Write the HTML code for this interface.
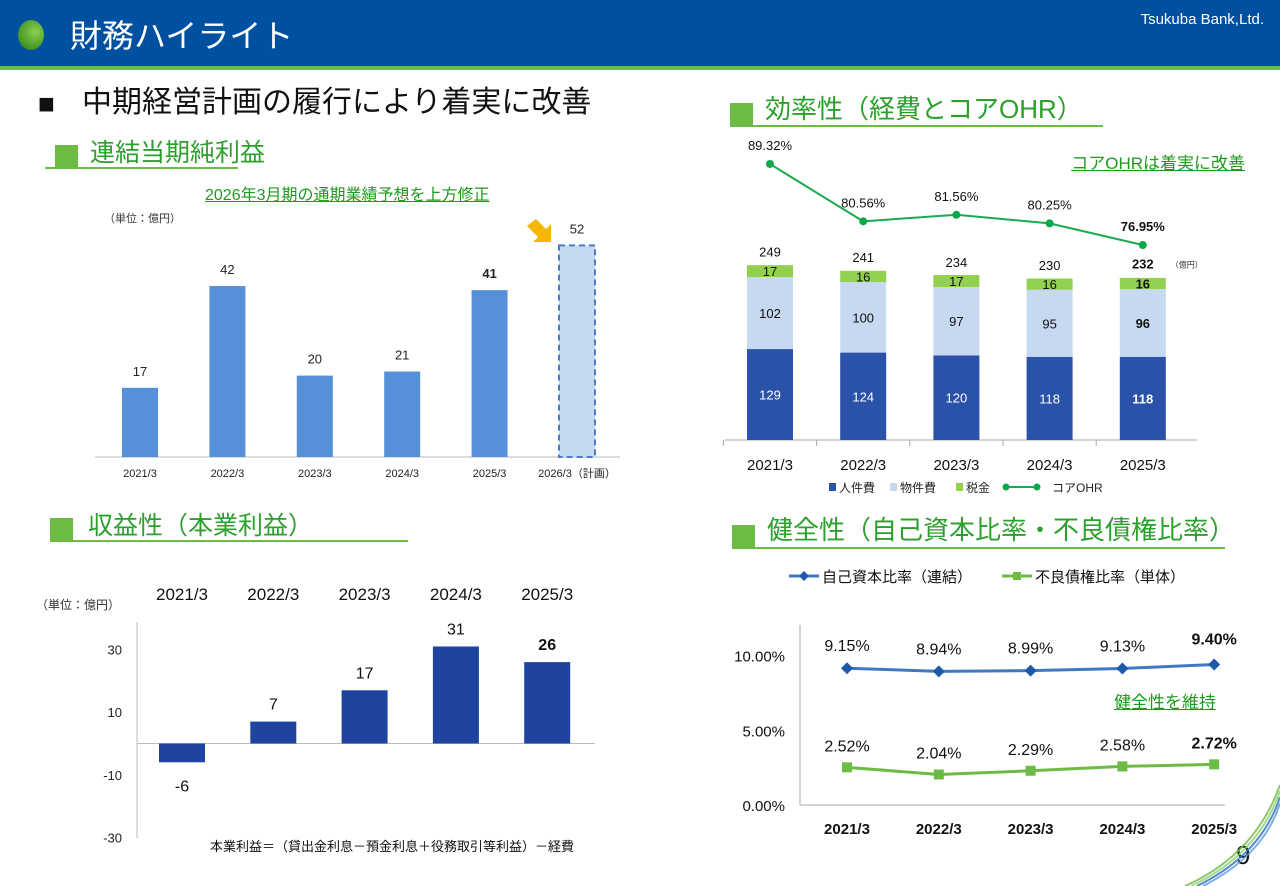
<!DOCTYPE html>
<html><head><meta charset="utf-8">
<style>
body{margin:0;width:1280px;height:886px;overflow:hidden;background:#fff;font-family:"Liberation Sans","Noto Sans CJK JP",sans-serif;position:relative}
.abs{position:absolute;white-space:nowrap}
.sec{position:absolute;color:#2ca02c;font-size:25px;line-height:28px}
.sq{position:absolute;background:#6cbb45}
.ul{position:absolute;height:2px;background:#6cbb45}
.note{position:absolute;color:#1e9a1e;text-decoration:underline;white-space:nowrap}
svg{position:absolute;left:0;top:0}
</style></head><body>
<div class="abs" style="left:0;top:0;width:1280px;height:66px;background:#0050a2"></div>
<div class="abs" style="left:0;top:66px;width:1280px;height:4px;background:#6cbb45"></div>
<div class="abs" style="left:18px;top:20px;width:26px;height:30px;border-radius:50%;background:radial-gradient(circle at 65% 40%,#8ad050,#3a8a20 80%)"></div>
<div class="abs" style="left:70px;top:15px;color:#fff;font-size:32px;line-height:42px">財務ハイライト</div>
<div class="abs" style="right:16px;top:11px;color:#fff;font-size:15px">Tsukuba Bank,Ltd.</div>
<div class="abs" style="left:38px;top:86px;font-size:28px;line-height:36px;color:#111">■</div>
<div class="abs" style="left:82px;top:84px;font-size:30px;line-height:38px;color:#111">中期経営計画の履行により着実に改善</div>

<div class="sq" style="left:55px;top:145px;width:23px;height:23px"></div>
<div class="sec" style="left:90px;top:139px">連結当期純利益</div>
<div class="ul" style="left:45px;top:167px;width:193px"></div>

<div class="sq" style="left:730px;top:103px;width:23px;height:24px"></div>
<div class="sec" style="left:765px;top:95px;font-size:26px">効率性（経費とコアOHR）</div>
<div class="ul" style="left:730px;top:125px;width:373px"></div>

<div class="sq" style="left:50px;top:518px;width:23px;height:24px"></div>
<div class="sec" style="left:88px;top:512px">収益性（本業利益）</div>
<div class="ul" style="left:50px;top:540px;width:358px"></div>

<div class="sq" style="left:732px;top:525px;width:23px;height:24px"></div>
<div class="sec" style="left:767px;top:516px;font-size:26px">健全性（自己資本比率・不良債権比率）</div>
<div class="ul" style="left:732px;top:547px;width:493px"></div>

<div class="note" style="left:205px;top:181px;font-size:16px">2026年3月期の通期業績予想を上方修正</div>
<div class="note" style="right:35px;top:149px;font-size:17px">コアOHRは着実に改善</div>
<div class="note" style="left:1114px;top:688px;font-size:17px">健全性を維持</div>
<div class="abs" style="left:104px;top:210px;font-size:11px;color:#333">（単位：億円）</div>
<div class="abs" style="left:36px;top:596px;font-size:12px;color:#333">（単位：億円）</div>
<div class="abs" style="left:210px;top:836px;font-size:13px;color:#111">本業利益＝（貸出金利息－預金利息＋役務取引等利益）－経費</div>
<div class="abs" style="left:1236px;top:840px;font-size:26px;color:#111">9</div>

<svg id="svg" width="1280" height="886" font-family="Liberation Sans, Noto Sans CJK JP, sans-serif"></svg>
<script>
const niCats=["2021/3","2022/3","2023/3","2024/3","2025/3","2026/3（計画）"];
const niVals=[17,42,20,21,41,52];
const exCats=["2021/3","2022/3","2023/3","2024/3","2025/3"];
const exPersonnel=[129,124,120,118,118];
const exProperty=[102,100,97,95,96];
const exTax=[17,16,17,16,16];
const exTotal=[249,241,234,230,232];
const ohrVals=[89.32,80.56,81.56,80.25,76.95];
const cpCats=["2021/3","2022/3","2023/3","2024/3","2025/3"];
const cpVals=[-6,7,17,31,26];
const cpTicks=[30,10,-10,-30];
const rtCats=["2021/3","2022/3","2023/3","2024/3","2025/3"];
const capVals=[9.15,8.94,8.99,9.13,9.40];
const nplVals=[2.52,2.04,2.29,2.58,2.72];
const rtTicks=[0,5,10];

const svg=document.getElementById('svg');
const NS='http://www.w3.org/2000/svg';
function mk(tag,attrs,name,txt){const e=document.createElementNS(NS,tag);for(const k in attrs)e.setAttribute(k,attrs[k]);


if(txt!==undefined)e.textContent=txt;svg.appendChild(e);return e;}

const c1x=i=>140+i*87.4, c1y=v=>457-v*4.07;
mk('line',{x1:95,x2:620,y1:457,y2:457,stroke:'#bbb'},'x-axis');
niCats.forEach((c,i)=>{
  const last=i===niCats.length-1;
  mk('rect',{x:c1x(i)-18,y:c1y(niVals[i]),width:36,height:457-c1y(niVals[i]),fill:last?'#c5d9f1':'#5590d8',stroke:last?'#4a7cc8':'none','stroke-width':last?2:0,'stroke-dasharray':'6,4'},'net-income-bar');
  mk('text',{x:c1x(i),y:c1y(niVals[i])-12,'text-anchor':'middle','font-size':13,'font-weight':i==4?'bold':'normal',fill:'#222'},'bar-value-label',niVals[i]);
  mk('text',{x:c1x(i),y:477,'text-anchor':'middle','font-size':11,fill:'#222'},'x-tick-label',c);
});
mk('polygon',{points:'527,226 536,219 546,229 551,224 551,242 533,242 538,237',fill:'#f5b800'},'forecast-arrow');

const c2x=i=>770+i*93.2, c2y=v=>440-v*0.705, oy=v=>245-(v-76.95)*6.55;
mk('line',{x1:725,x2:1197,y1:440,y2:440,stroke:'#aaa'},'x-axis');
exCats.forEach((c,i)=>{
  const x=c2x(i)-23;const b=exPersonnel[i],p=exProperty[i],t=exTax[i];const bold=i==4?'bold':'normal';
  mk('rect',{x,y:c2y(b),width:46,height:b*0.705,fill:'#2a52a8'},'personnel-bar');
  mk('rect',{x,y:c2y(b+p),width:46,height:p*0.705,fill:'#c6d9f0'},'property-bar');
  mk('rect',{x,y:c2y(b+p+t),width:46,height:t*0.705,fill:'#92d050'},'tax-bar');
  mk('text',{x:c2x(i),y:c2y(b/2)+5,'text-anchor':'middle','font-size':13,fill:'#fff','font-weight':bold},'personnel-label',b);
  mk('text',{x:c2x(i),y:c2y(b+p/2)+5,'text-anchor':'middle','font-size':13,fill:'#111','font-weight':bold},'property-label',p);
  mk('text',{x:c2x(i),y:c2y(b+p+t/2)+5,'text-anchor':'middle','font-size':13,fill:'#111','font-weight':bold},'tax-label',t);
  mk('text',{x:c2x(i),y:c2y(exTotal[i])-8,'text-anchor':'middle','font-size':13,fill:'#111','font-weight':bold},'total-label',exTotal[i]);
  mk('text',{x:c2x(i),y:470,'text-anchor':'middle','font-size':15,fill:'#111'},'x-tick-label',c);
  mk('line',{x1:c2x(i)-46.6,x2:c2x(i)-46.6,y1:440,y2:446,stroke:'#aaa'},'x-tick');
});
mk('text',{x:c2x(4)+28,y:c2y(exTotal[4])-9,'font-size':8,fill:'#333'},'unit-label','（億円）');
mk('polyline',{points:ohrVals.map((v,i)=>c2x(i)+','+oy(v)).join(' '),fill:'none',stroke:'#1aaa50','stroke-width':2},'ohr-line');
ohrVals.forEach((v,i)=>{
  mk('circle',{cx:c2x(i),cy:oy(v),r:4,fill:'#0ca84a'},'ohr-point');
  mk('text',{x:c2x(i),y:oy(v)-14,'text-anchor':'middle','font-size':13,fill:'#111','font-weight':i==4?'bold':'normal'},'ohr-label',v.toFixed(2)+'%');
});
mk('rect',{x:829,y:483,width:7,height:8,fill:'#2a52a8'},'legend-personnel');
mk('text',{x:839,y:492,'font-size':12,fill:'#222'},'legend-text','人件費');
mk('rect',{x:890,y:483,width:7,height:8,fill:'#c6d9f0'},'legend-property');
mk('text',{x:900,y:492,'font-size':12,fill:'#222'},'legend-text','物件費');
mk('rect',{x:956,y:483,width:7,height:8,fill:'#92d050'},'legend-tax');
mk('text',{x:966,y:492,'font-size':12,fill:'#222'},'legend-text','税金');
mk('line',{x1:1005,x2:1038,y1:487,y2:487,stroke:'#1aaa50','stroke-width':2},'legend-ohr-line');
mk('circle',{cx:1006,cy:487,r:3.5,fill:'#0ca84a'},'legend-ohr-dot');
mk('circle',{cx:1037,cy:487,r:3.5,fill:'#0ca84a'},'legend-ohr-dot');
mk('text',{x:1052,y:492,'font-size':12,fill:'#222'},'legend-text','コアOHR');

const c3x=i=>182+i*91.3, c3y=v=>743.5-v*3.13;
mk('line',{x1:137,x2:137,y1:622,y2:838,stroke:'#bbb'},'y-axis');
mk('line',{x1:137,x2:595,y1:743.5,y2:743.5,stroke:'#bbb'},'zero-line');
cpTicks.forEach(t=>mk('text',{x:122,y:c3y(t)+5,'text-anchor':'end','font-size':13,fill:'#222'},'y-tick-label',t));
cpCats.forEach((c,i)=>{
  const v=cpVals[i];const y0=Math.min(c3y(v),c3y(0));
  mk('rect',{x:c3x(i)-23,y:y0,width:46,height:Math.abs(v)*3.13,fill:'#1f44a0'},'core-profit-bar');
  mk('text',{x:c3x(i),y:v<0?c3y(v)+29:c3y(v)-12,'text-anchor':'middle','font-size':16,fill:'#111','font-weight':i==4?'bold':'normal'},'bar-value-label',v);
  mk('text',{x:c3x(i),y:600,'text-anchor':'middle','font-size':17,fill:'#111'},'year-label',c);
});

const c4x=i=>847+i*91.8, c4y=v=>805-v*14.95;
mk('line',{x1:800,x2:800,y1:625,y2:805,stroke:'#aaa'},'y-axis');
mk('line',{x1:800,x2:1225,y1:805,y2:805,stroke:'#aaa'},'x-axis');
rtTicks.forEach(t=>mk('text',{x:785,y:c4y(t)+6,'text-anchor':'end','font-size':15,fill:'#111'},'y-tick-label',t.toFixed(2)+'%'));
rtCats.forEach((c,i)=>mk('text',{x:c4x(i),y:834,'text-anchor':'middle','font-size':15,fill:'#111','font-weight':'bold'},'x-tick-label',c));
mk('polyline',{points:capVals.map((v,i)=>c4x(i)+','+c4y(v)).join(' '),fill:'none',stroke:'#3f78c4','stroke-width':3},'capital-ratio-line');
mk('polyline',{points:nplVals.map((v,i)=>c4x(i)+','+c4y(v)).join(' '),fill:'none',stroke:'#6cbb45','stroke-width':3},'npl-ratio-line');
capVals.forEach((v,i)=>{
  const x=c4x(i),y=c4y(v);
  mk('polygon',{points:`${x},${y-6} ${x+6},${y} ${x},${y+6} ${x-6},${y}`,fill:'#1f5aa8'},'capital-ratio-point');
  mk('text',{x,y:y-(i==4?20:17),'text-anchor':'middle','font-size':16,fill:'#111','font-weight':i==4?'bold':'normal'},'capital-ratio-label',v.toFixed(2)+'%');
});
nplVals.forEach((v,i)=>{
  const x=c4x(i),y=c4y(v);
  mk('rect',{x:x-5,y:y-5,width:10,height:10,fill:'#6cbb45'},'npl-ratio-point');
  mk('text',{x,y:y-16,'text-anchor':'middle','font-size':16,fill:'#111','font-weight':i==4?'bold':'normal'},'npl-ratio-label',v.toFixed(2)+'%');
});
mk('line',{x1:789,x2:819,y1:576,y2:576,stroke:'#3f78c4','stroke-width':3},'legend-capital-line');
mk('polygon',{points:'804,571 809,576 804,581 799,576',fill:'#1f5aa8'},'legend-capital-marker');
mk('text',{x:822,y:582,'font-size':15,fill:'#111'},'legend-text','自己資本比率（連結）');
mk('line',{x1:1002,x2:1032,y1:576,y2:576,stroke:'#6cbb45','stroke-width':3},'legend-npl-line');
mk('rect',{x:1013,y:572,width:8,height:8,fill:'#6cbb45'},'legend-npl-marker');
mk('text',{x:1035,y:582,'font-size':15,fill:'#111'},'legend-text','不良債権比率（単体）');
[['#6cbb45',0],['#8fd06a',6],['#2a6fc4',12],['#5a9ae0',18]].forEach(([col,o])=>
  mk('path',{d:`M${1185+o},886 Q${1255+o/2},855 1280,${785+o}`,fill:'none',stroke:col,'stroke-width':2,opacity:0.8},'decor-swoosh'));
</script>
</body></html>
